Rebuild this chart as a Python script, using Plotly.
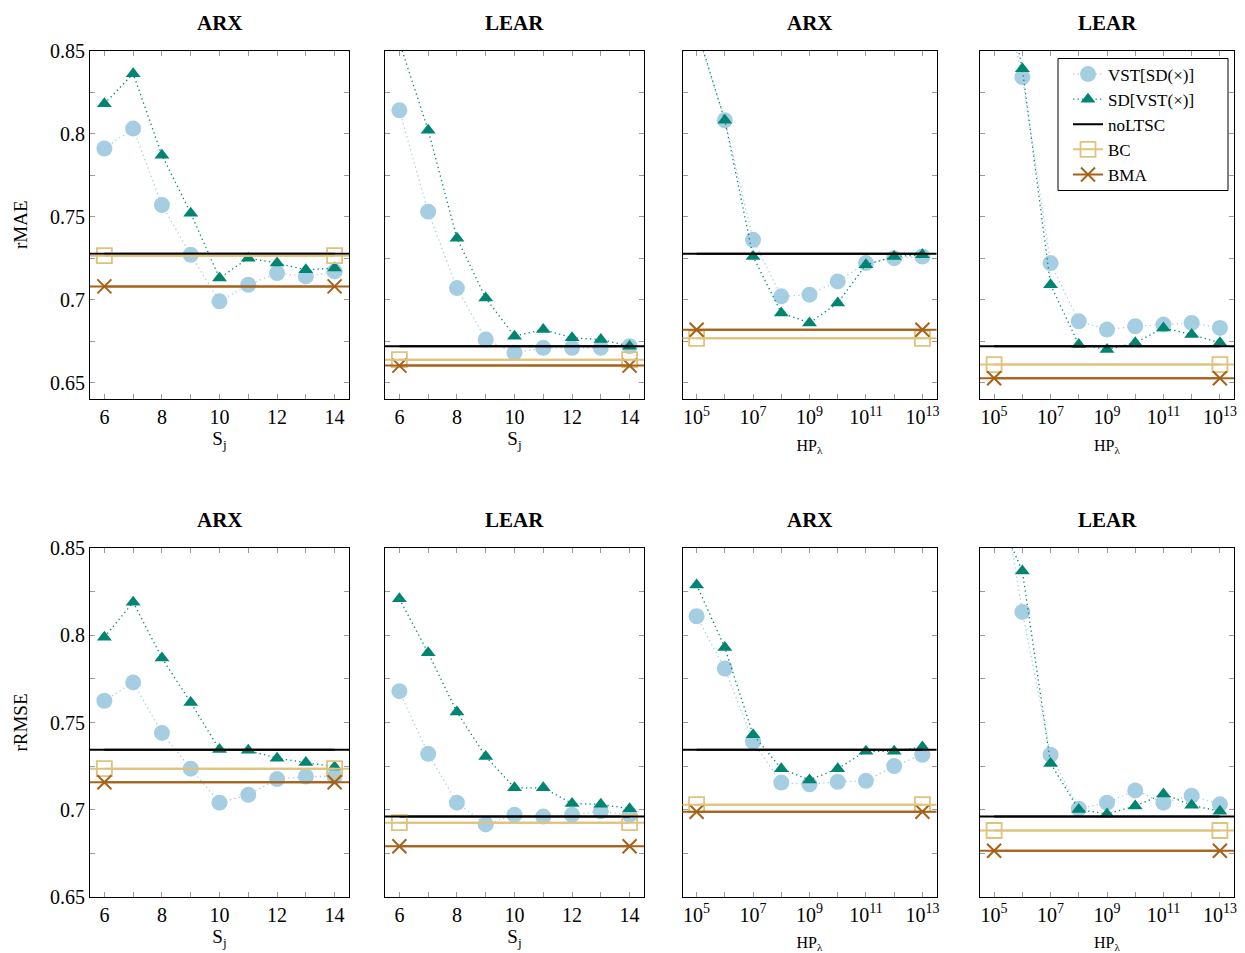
import plotly.graph_objects as go
from plotly.subplots import make_subplots

# ---------------- data ----------------
S_J = [6, 7, 8, 9, 10, 11, 12, 13, 14]
HP_LAMBDA = [1e5, 1e6, 1e7, 1e8, 1e9, 1e10, 1e11, 1e12, 1e13]

# rMAE
MAE_ARX_S_VST = [0.791, 0.803, 0.757, 0.727, 0.699, 0.709, 0.716, 0.714, 0.717]
MAE_ARX_S_SD = [0.818, 0.836, 0.787, 0.752, 0.713, 0.725, 0.722, 0.718, 0.719]
MAE_LEAR_S_VST = [0.814, 0.753, 0.707, 0.676, 0.668, 0.671, 0.671, 0.671, 0.672]
MAE_LEAR_S_SD = [0.855, 0.802, 0.737, 0.701, 0.678, 0.682, 0.677, 0.676, 0.672]
MAE_ARX_HP_VST = [0.862, 0.808, 0.736, 0.702, 0.703, 0.711, 0.722, 0.725, 0.726]
MAE_ARX_HP_SD = [0.863, 0.808, 0.726, 0.692, 0.686, 0.698, 0.721, 0.726, 0.727]
MAE_LEAR_HP_VST = [0.910, 0.834, 0.722, 0.687, 0.682, 0.684, 0.685, 0.686, 0.683]
MAE_LEAR_HP_SD = [0.920, 0.839, 0.709, 0.673, 0.670, 0.674, 0.683, 0.679, 0.674]

# rRMSE
RMSE_ARX_S_VST = [0.7625, 0.773, 0.744, 0.7235, 0.704, 0.7085, 0.7175, 0.719, 0.719]
RMSE_ARX_S_SD = [0.799, 0.819, 0.787, 0.7615, 0.7345, 0.734, 0.7295, 0.727, 0.7245]
RMSE_LEAR_S_VST = [0.768, 0.732, 0.704, 0.6915, 0.697, 0.696, 0.697, 0.699, 0.697]
RMSE_LEAR_S_SD = [0.821, 0.790, 0.756, 0.7305, 0.7125, 0.7125, 0.7035, 0.703, 0.7005]
RMSE_ARX_HP_VST = [0.811, 0.781, 0.739, 0.7155, 0.7145, 0.716, 0.7165, 0.725, 0.7315]
RMSE_ARX_HP_SD = [0.829, 0.793, 0.743, 0.7235, 0.717, 0.7235, 0.7335, 0.7335, 0.736]
RMSE_LEAR_HP_VST = [0.913, 0.8135, 0.7315, 0.7005, 0.704, 0.711, 0.704, 0.708, 0.703]
RMSE_LEAR_HP_SD = [0.874, 0.837, 0.7265, 0.700, 0.6975, 0.702, 0.709, 0.7025, 0.699]

# baselines [noLTSC, BC, BMA] per panel
MAE_BASE_ARX_S = [0.7276, 0.7265, 0.708]
MAE_BASE_LEAR_S = [0.6719, 0.6639, 0.6603]
MAE_BASE_ARX_HP = [0.7276, 0.6767, 0.6819]
MAE_BASE_LEAR_HP = [0.6719, 0.6609, 0.6527]
RMSE_BASE_ARX_S = [0.7344, 0.7235, 0.7157]
RMSE_BASE_LEAR_S = [0.696, 0.6925, 0.679]
RMSE_BASE_ARX_HP = [0.7344, 0.7028, 0.6988]
RMSE_BASE_LEAR_HP = [0.696, 0.688, 0.6764]

TITLES = ["ARX", "LEAR", "ARX", "LEAR"]
ROW_LABELS = ["rMAE", "rRMSE"]
SERIES_NAMES = ["VST[SD(\u00d7)]", "SD[VST(\u00d7)]", "noLTSC", "BC", "BMA"]

Y_TICKS = [0.65, 0.675, 0.70, 0.725, 0.75, 0.775, 0.80, 0.825, 0.85]
Y_TICK_TEXT = ["0.65", "", "0.7", "", "0.75", "", "0.8", "", "0.85"]
S_TICK_TEXT = ["6", "", "8", "", "10", "", "12", "", "14"]
HP_TICK_TEXT = ["10<sup>5</sup>", "", "10<sup>7</sup>", "", "10<sup>9</sup>", "",
                "10<sup>11</sup>", "", "10<sup>13</sup>"]

panels = [
    [(S_J, MAE_ARX_S_VST, MAE_ARX_S_SD, MAE_BASE_ARX_S),
     (S_J, MAE_LEAR_S_VST, MAE_LEAR_S_SD, MAE_BASE_LEAR_S),
     (HP_LAMBDA, MAE_ARX_HP_VST, MAE_ARX_HP_SD, MAE_BASE_ARX_HP),
     (HP_LAMBDA, MAE_LEAR_HP_VST, MAE_LEAR_HP_SD, MAE_BASE_LEAR_HP)],
    [(S_J, RMSE_ARX_S_VST, RMSE_ARX_S_SD, RMSE_BASE_ARX_S),
     (S_J, RMSE_LEAR_S_VST, RMSE_LEAR_S_SD, RMSE_BASE_LEAR_S),
     (HP_LAMBDA, RMSE_ARX_HP_VST, RMSE_ARX_HP_SD, RMSE_BASE_ARX_HP),
     (HP_LAMBDA, RMSE_LEAR_HP_VST, RMSE_LEAR_HP_SD, RMSE_BASE_LEAR_HP)],
]

# ---------------- style ----------------
FONT = "Liberation Serif"
C_VST = "#a6cee3"
C_SD = "#018571"
C_NO = "#000000"
C_BC = "#dfc27d"
C_BMA = "#a6611a"
W, H = 1245, 953
DOT = "1.3px,3.2px"

COL_PX = [(90, 349), (385, 644), (682.5, 936.5), (980, 1234)]
ROW_PX = [(50.5, 399), (548.3, 896.7)]
Y_RANGES = [[0.6402, 0.85], [0.65, 0.85]]
LEGEND_BOX_PX = (1058, 58.5, 1228, 190.5)  # x0, y0, x1, y1 (px from top-left)

fig = make_subplots(rows=2, cols=4)

for r in range(2):
    for c in range(4):
        xs, vst, sd, base = panels[r][c]
        show = (r == 0 and c == 0)
        R, C = r + 1, c + 1
        fig.add_trace(go.Scatter(
            x=xs, y=vst, mode="lines+markers", name=SERIES_NAMES[0],
            showlegend=show,
            line=dict(color=C_VST, width=1.3, dash=DOT),
            marker=dict(symbol="circle", size=16, color=C_VST)), row=R, col=C)
        fig.add_trace(go.Scatter(
            x=xs, y=sd, mode="lines+markers", name=SERIES_NAMES[1],
            showlegend=show,
            line=dict(color=C_SD, width=1.3, dash=DOT),
            marker=dict(symbol="triangle-up", size=13, color=C_SD)), row=R, col=C)
        # baselines: full-width horizontal lines plus end markers
        fig.add_trace(go.Scatter(
            x=[xs[0], xs[-1]], y=[base[0], base[0]], mode="lines", name=SERIES_NAMES[2],
            showlegend=show,
            line=dict(color=C_NO, width=2)), row=R, col=C)
        fig.add_trace(go.Scatter(
            x=[xs[0], xs[-1]], y=[base[1], base[1]], mode="lines+markers", name=SERIES_NAMES[3],
            showlegend=show,
            line=dict(color=C_BC, width=2),
            marker=dict(symbol="square-open", size=15, color=C_BC, line=dict(width=1.8))),
            row=R, col=C)
        fig.add_trace(go.Scatter(
            x=[xs[0], xs[-1]], y=[base[2], base[2]], mode="lines+markers", name=SERIES_NAMES[4],
            showlegend=show,
            line=dict(color=C_BMA, width=2),
            marker=dict(symbol="x-thin", size=14, color=C_BMA, line=dict(width=2, color=C_BMA))),
            row=R, col=C)
        for val, col in zip(base, [C_NO, C_BC, C_BMA]):
            fig.add_hline(y=val, row=R, col=C, line=dict(color=col, width=2), layer="above")

        idx = r * 4 + c + 1
        xa = "xaxis" if idx == 1 else f"xaxis{idx}"
        ya = "yaxis" if idx == 1 else f"yaxis{idx}"
        x0, x1 = COL_PX[c]
        y0, y1 = ROW_PX[r]
        is_log = c >= 2
        xcfg = dict(
            domain=[x0 / W, x1 / W], automargin=False,
            showgrid=False, zeroline=False,
            showline=True, linecolor="black", linewidth=1, mirror="ticks",
            ticks="inside", ticklen=5, tickcolor="#9a9a9a", tickwidth=1,
            tickfont=dict(family=FONT, size=20, color="black"),
        )
        if is_log:
            xcfg.update(type="log", range=[4.5, 13.5], tickmode="array",
                        tickvals=HP_LAMBDA, ticktext=HP_TICK_TEXT,
                        title=dict(text="HP<sub>\u03bb</sub>", font=dict(family=FONT, size=16, color="black"),
                                   standoff=12))
        else:
            xcfg.update(range=[5.5, 14.5], tickmode="array",
                        tickvals=S_J, ticktext=S_TICK_TEXT,
                        title=dict(text="S<sub>j</sub>", font=dict(family=FONT, size=19, color="black"),
                                   standoff=4))
        fig.layout[xa].update(xcfg)
        ycfg = dict(
            domain=[1 - y1 / H, 1 - y0 / H], automargin=False,
            range=Y_RANGES[r],
            showgrid=False, zeroline=False,
            showline=True, linecolor="black", linewidth=1, mirror="ticks",
            ticks="inside", ticklen=5, tickcolor="#9a9a9a", tickwidth=1,
            tickmode="array", tickvals=Y_TICKS, ticktext=Y_TICK_TEXT,
            showticklabels=(c == 0),
            tickfont=dict(family=FONT, size=20, color="black"),
        )
        if c == 0:
            ycfg["title"] = dict(text=ROW_LABELS[r], font=dict(family=FONT, size=19, color="black"),
                                 standoff=17)
        fig.layout[ya].update(ycfg)

        fig.add_annotation(
            text=f"<b>{TITLES[c]}</b>", xref="paper", yref="paper",
            x=(x0 + x1) / 2 / W, y=1 - (y0 - 28) / H, showarrow=False,
            font=dict(family=FONT, size=21, color="black"), xanchor="center", yanchor="middle")

# legend frame (drawn as a shape so its size matches the original box)
lx0, ly0, lx1, ly1 = LEGEND_BOX_PX
fig.add_shape(type="rect", xref="paper", yref="paper",
              x0=lx0 / W, x1=lx1 / W, y0=1 - ly1 / H, y1=1 - ly0 / H,
              line=dict(color="black", width=1), fillcolor="white", layer="above")

fig.update_layout(
    width=W, height=H,
    margin=dict(l=0, r=0, t=0, b=0),
    paper_bgcolor="white", plot_bgcolor="white",
    font=dict(family=FONT, size=18, color="black"),
    legend=dict(
        x=(lx0 + 10) / W, y=1 - (ly0 - 2) / H, xanchor="left", yanchor="top",
        borderwidth=0, bgcolor="rgba(0,0,0,0)",
        font=dict(family=FONT, size=17, color="black"),
        tracegroupgap=0,
    ),
)

fig.write_html("out.html", config={"displayModeBar": False},
               post_script="document.body.style.margin='0';document.body.style.overflow='hidden';")
